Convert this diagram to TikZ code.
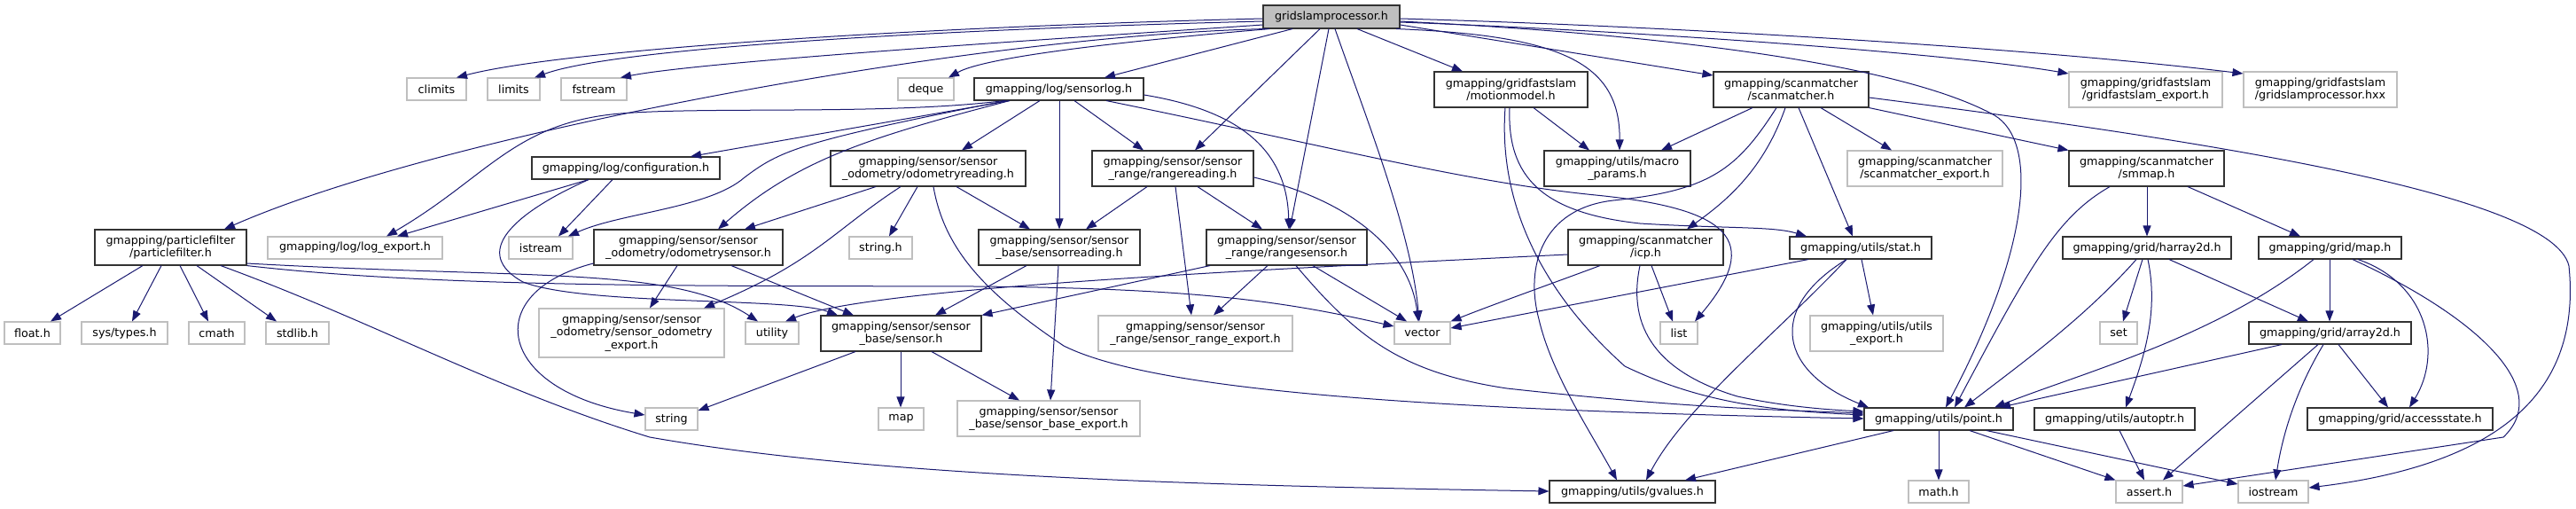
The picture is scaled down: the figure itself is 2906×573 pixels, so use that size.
\documentclass[tikz,border=0pt]{standalone}
\usepackage{fontspec}
\setmainfont{DejaVu Sans}
\usetikzlibrary{arrows.meta}
\definecolor{edgecol}{HTML}{191970}
\definecolor{docline}{HTML}{333333}
\definecolor{extline}{HTML}{BFBFBF}
\definecolor{rootfill}{HTML}{BFBFBF}
\newcommand\dnode[7]{\node[#1, minimum width=#5pt, minimum height=#6pt] (#2) at (#3,#4) {#7};}
\tikzset{
  docn/.style={draw=docline, line width=1.1pt, fill=white, inner sep=0pt, align=center},
  extn/.style={draw=extline, line width=1.1pt, fill=white, inner sep=0pt, align=center},
  rootn/.style={docn, fill=rootfill},
  dep/.style={draw=edgecol, line width=1pt, -{Triangle[length=12pt,width=9pt]}}
}
\begin{document}
\begin{tikzpicture}[x=1pt,y=-1pt,font=\fontsize{12.7pt}{14.3pt}\selectfont]
\useasboundingbox (0,0) rectangle (2906,573);
\fill[white] (0,0) rectangle (2906,573);
% nodes
\dnode{rootn}{gsp}{1502}{19}{154}{26}{gridslamprocessor.h}
\dnode{extn}{climits}{492.5}{100.5}{67}{25}{climits}
\dnode{extn}{limits}{579.5}{100.5}{59}{25}{limits}
\dnode{extn}{fstream}{670}{100.5}{74}{25}{fstream}
\dnode{extn}{deque}{1044.5}{100.5}{63}{25}{deque}
\dnode{docn}{sensorlog}{1194.5}{100.5}{191}{25}{gmapping/log/sensorlog.h}
\dnode{docn}{motionmodel}{1704.5}{101}{173}{40}{gmapping/gridfastslam\\/motionmodel.h}
\dnode{docn}{scanmatcher}{2020.5}{101}{175}{40}{gmapping/scanmatcher\\/scanmatcher.h}
\dnode{extn}{gfexport}{2420.5}{101}{173}{40}{gmapping/gridfastslam\\/gridfastslam\_export.h}
\dnode{extn}{gsphxx}{2617.5}{101}{173}{40}{gmapping/gridfastslam\\/gridslamprocessor.hxx}
\dnode{docn}{configuration}{706}{189.5}{212}{25}{gmapping/log/configuration.h}
\dnode{docn}{odomreading}{1047}{190}{220}{40}{gmapping/sensor/sensor\\\_odometry/odometryreading.h}
\dnode{docn}{rangereading}{1323}{190}{182}{40}{gmapping/sensor/sensor\\\_range/rangereading.h}
\dnode{docn}{macroparams}{1824.5}{190}{165}{40}{gmapping/utils/macro\\\_params.h}
\dnode{extn}{smexport}{2171.5}{190}{175}{40}{gmapping/scanmatcher\\/scanmatcher\_export.h}
\dnode{docn}{smmap}{2421.5}{190}{175}{40}{gmapping/scanmatcher\\/smmap.h}
\dnode{docn}{particlefilter}{192.5}{279}{171}{40}{gmapping/particlefilter\\/particlefilter.h}
\dnode{extn}{logexport}{400.5}{279.5}{197}{25}{gmapping/log/log\_export.h}
\dnode{extn}{istream}{610}{279.5}{72}{25}{istream}
\dnode{docn}{odomsensor}{776.5}{279}{213}{40}{gmapping/sensor/sensor\\\_odometry/odometrysensor.h}
\dnode{extn}{stringh}{993.5}{279.5}{71}{25}{string.h}
\dnode{docn}{sensorreading}{1195}{279}{182}{40}{gmapping/sensor/sensor\\\_base/sensorreading.h}
\dnode{docn}{rangesensor}{1451.5}{279}{181}{40}{gmapping/sensor/sensor\\\_range/rangesensor.h}
\dnode{docn}{icp}{1856.5}{279}{175}{40}{gmapping/scanmatcher\\/icp.h}
\dnode{docn}{stat}{2099}{279.5}{160}{25}{gmapping/utils/stat.h}
\dnode{docn}{harray2d}{2422}{279.5}{190}{25}{gmapping/grid/harray2d.h}
\dnode{docn}{gridmap}{2628.5}{279.5}{161}{25}{gmapping/grid/map.h}
\dnode{extn}{floath}{36.5}{375.5}{63}{25}{float.h}
\dnode{extn}{systypes}{140.5}{375.5}{97}{25}{sys/types.h}
\dnode{extn}{cmath}{244.5}{375.5}{63}{25}{cmath}
\dnode{extn}{stdlib}{335.5}{375.5}{71}{25}{stdlib.h}
\dnode{extn}{sodomexport}{712.5}{375.5}{209}{55}{gmapping/sensor/sensor\\\_odometry/sensor\_odometry\\\_export.h}
\dnode{extn}{utility}{871}{375.5}{60}{25}{utility}
\dnode{docn}{sensorh}{1016.5}{376}{181}{40}{gmapping/sensor/sensor\\\_base/sensor.h}
\dnode{extn}{srangeexport}{1348.5}{376}{219}{40}{gmapping/sensor/sensor\\\_range/sensor\_range\_export.h}
\dnode{extn}{vector}{1604.5}{375.5}{63}{25}{vector}
\dnode{extn}{list}{1894}{375.5}{42}{25}{list}
\dnode{extn}{utilsexport}{2117}{376}{150}{40}{gmapping/utils/utils\\\_export.h}
\dnode{extn}{set}{2390}{375.5}{42}{25}{set}
\dnode{docn}{array2d}{2628.5}{375.5}{183}{25}{gmapping/grid/array2d.h}
\dnode{extn}{string}{757.5}{472.5}{59}{25}{string}
\dnode{extn}{stdmap}{1016.5}{472.5}{51}{25}{map}
\dnode{extn}{sbaseexport}{1183}{472}{206}{40}{gmapping/sensor/sensor\\\_base/sensor\_base\_export.h}
\dnode{docn}{point}{2187}{472.5}{168}{25}{gmapping/utils/point.h}
\dnode{docn}{autoptr}{2385.5}{472.5}{181}{25}{gmapping/utils/autoptr.h}
\dnode{docn}{accessstate}{2707.5}{472.5}{209}{25}{gmapping/grid/accessstate.h}
\dnode{docn}{gvalues}{1841.5}{554.5}{187}{25}{gmapping/utils/gvalues.h}
\dnode{extn}{mathh}{2187}{554.5}{68}{25}{math.h}
\dnode{extn}{asserth}{2424.5}{554.5}{75}{25}{assert.h}
\dnode{extn}{iostream}{2564.5}{554.5}{79}{25}{iostream}
% edges from gridslamprocessor.h
\draw[dep] (gsp.west |- 0,21) .. controls (1050,30) and (640,55) .. (climits.north -| 515,0);
\draw[dep] (gsp.west |- 0,24) .. controls (1100,32) and (700,52) .. (limits.north -| 603,0);
\draw[dep] (gsp.west |- 0,28) .. controls (1250,40) and (800,68) .. (fstream.north -| 700,0);
\draw[dep] (gsp.south -| 1432,0) .. controls (1250,48) and (1110,65) .. (deque.north -| 1070,0);
\draw[dep] (gsp.south -| 1428,0) .. controls (1100,40) and (500,150) .. (particlefilter.north -| 253,0);
\draw[dep] (gsp.south -| 1458,0) -- (sensorlog.north -| 1246,0);
\draw[dep] (gsp.south -| 1489,0) -- (rangereading.north -| 1348,0);
\draw[dep] (gsp.south -| 1499,0) -- (rangesensor.north -| 1455,0);
\draw[dep] (gsp.south -| 1506,0) .. controls (1540,130) and (1592,260) .. (vector.north -| 1601,0);
\draw[dep] (gsp.south -| 1531,0) -- (motionmodel.north -| 1650,0);
\draw[dep] (gsp.south -| 1575,0) .. controls (1760,40) and (1828,70) .. (macroparams.north -| 1827,0);
\draw[dep] (gsp.east |- 0,28) -- (scanmatcher.west |- 0,85);
\draw[dep] (gsp.east |- 0,25) .. controls (1850,35) and (2200,60) .. (gfexport.west |- 0,83);
\draw[dep] (gsp.east |- 0,21) .. controls (1900,30) and (2300,55) .. (gsphxx.west |- 0,83);
\draw[dep] (gsp.east |- 0,24) .. controls (1900,40) and (2150,75) .. (2250,130) .. controls (2300,160) and (2290,280) .. (point.north -| 2195,0);
% sensorlog.h
\draw[dep] (sensorlog.south -| 1139,0) -- (configuration.north -| 779,0);
\draw[dep] (sensorlog.south -| 1135,0) .. controls (900,160) and (880,170) .. (840,200) .. controls (800,235) and (700,240) .. (istream.north -| 641,0);
\draw[dep] (sensorlog.south -| 1139,0) .. controls (980,155) and (900,180) .. (odomsensor.north -| 810,0);
\draw[dep] (sensorlog.south -| 1173,0) -- (odomreading.north -| 1085,0);
\draw[dep] (sensorlog.south -| 1212,0) -- (rangereading.north -| 1290,0);
\draw[dep] (sensorlog.south -| 1195,0) -- (sensorreading.north -| 1195,0);
\draw[dep] (sensorlog.east |- 0,107) .. controls (1400,125) and (1452,170) .. (rangesensor.north -| 1454,0);
\draw[dep] (sensorlog.south -| 1133,0) .. controls (1000,130) and (800,120) .. (700,128) .. controls (580,138) and (550,200) .. (logexport.north -| 436,0);
\draw[dep] (sensorlog.south -| 1248,0) .. controls (1500,165) and (1650,205) .. (1800,220) .. controls (1950,235) and (1990,270) .. (list.north -| 1912,0);
% particlefilter.h
\draw[dep] (particlefilter.south -| 161,0) -- (floath.north -| 57,0);
\draw[dep] (particlefilter.south -| 182,0) -- (systypes.north -| 149,0);
\draw[dep] (particlefilter.south -| 203,0) -- (cmath.north -| 235,0);
\draw[dep] (particlefilter.south -| 222,0) -- (stdlib.north -| 312,0);
\draw[dep] (particlefilter.south -| 249,0) .. controls (420,362) and (560,440) .. (733,493) .. controls (1000,540) and (1400,548) .. (gvalues.west |- 0,554);
\draw[dep] (particlefilter.east |- 0,297) .. controls (600,315) and (760,300) .. (utility.north -| 855,0);
\draw[dep] (particlefilter.south east) .. controls (500,325) and (800,322) .. (1100,323) .. controls (1350,325) and (1450,340) .. (vector.west |- 0,368);
% configuration.h
\draw[dep] (configuration.south -| 664,0) .. controls (580,240) and (530,285) .. (590,318) .. controls (660,345) and (890,335) .. (sensorh.north -| 945,0);
\draw[dep] (configuration.south -| 664,0) -- (logexport.north -| 448,0);
\draw[dep] (configuration.south -| 691,0) -- (istream.north -| 630,0);
% odometrysensor.h
\draw[dep] (odomsensor.south -| 764,0) -- (sodomexport.north -| 733,0);
\draw[dep] (odomsensor.south -| 825,0) -- (sensorh.north -| 963,0);
\draw[dep] (odomsensor.west |- 0,297) .. controls (540,330) and (560,440) .. (string.west |- 0,468);
% odometryreading.h
\draw[dep] (odomreading.south -| 988,0) -- (odomsensor.north -| 840,0);
\draw[dep] (odomreading.south -| 1016,0) .. controls (940,260) and (920,295) .. (sodomexport.north -| 794,0);
\draw[dep] (odomreading.south -| 1035,0) -- (stringh.north -| 1003,0);
\draw[dep] (odomreading.south -| 1079,0) -- (sensorreading.north -| 1162,0);
\draw[dep] (odomreading.south -| 1053,0) .. controls (1065,280) and (1110,330) .. (1200,390) .. controls (1300,440) and (1600,462) .. (point.west |- 0,472);
% sensor.h
\draw[dep] (sensorh.south -| 965,0) -- (string.east |- 0,463);
\draw[dep] (sensorh.south -| 1016,0) -- (stdmap.north -| 1016,0);
\draw[dep] (sensorh.south -| 1051,0) -- (sbaseexport.north -| 1150,0);
% sensorreading.h
\draw[dep] (sensorreading.south -| 1158,0) -- (sensorh.north -| 1055,0);
\draw[dep] (sensorreading.south -| 1194,0) -- (sbaseexport.north -| 1185,0);
% rangereading.h
\draw[dep] (rangereading.south -| 1294,0) -- (sensorreading.north -| 1225,0);
\draw[dep] (rangereading.south -| 1326,0) -- (srangeexport.north -| 1344,0);
\draw[dep] (rangereading.south -| 1351,0) -- (rangesensor.north -| 1424,0);
\draw[dep] (rangereading.east |- 0,200) .. controls (1520,225) and (1590,280) .. (vector.north -| 1600,0);
% rangesensor.h
\draw[dep] (rangesensor.south -| 1365,0) -- (sensorh.north east);
\draw[dep] (rangesensor.south -| 1430,0) -- (srangeexport.north -| 1369,0);
\draw[dep] (rangesensor.south -| 1481,0) -- (vector.north -| 1587,0);
\draw[dep] (rangesensor.south -| 1462,0) .. controls (1530,380) and (1580,420) .. (1700,438) .. controls (1900,460) and (2000,462) .. (point.west |- 0,466);
% motionmodel.h
\draw[dep] (motionmodel.south -| 1730,0) -- (macroparams.north -| 1793,0);
\draw[dep] (motionmodel.south -| 1703,0) .. controls (1700,200) and (1740,240) .. (1850,252) .. controls (1950,258) and (2000,255) .. (stat.north -| 2038,0);
\draw[dep] (motionmodel.south -| 1698,0) .. controls (1690,230) and (1740,330) .. (1833,413) .. controls (1920,455) and (2000,463) .. (point.west |- 0,468);
% scanmatcher.h
\draw[dep] (scanmatcher.south -| 1977,0) -- (macroparams.north -| 1874,0);
\draw[dep] (scanmatcher.south -| 2004,0) .. controls (1960,190) and (1930,215) .. (1820,226) .. controls (1740,235) and (1720,300) .. (1736,360) .. controls (1750,420) and (1790,480) .. (gvalues.north -| 1824,0);
\draw[dep] (scanmatcher.south -| 2014,0) .. controls (1990,190) and (1950,225) .. (icp.north -| 1903,0);
\draw[dep] (scanmatcher.south -| 2029,0) -- (stat.north -| 2090,0);
\draw[dep] (scanmatcher.south -| 2054,0) -- (smexport.north -| 2134,0);
\draw[dep] (scanmatcher.south east) -- (smmap.north west);
\draw[dep] (scanmatcher.east |- 0,110) .. controls (2500,160) and (2880,220) .. (2898,300) .. controls (2910,420) and (2850,520) .. (iostream.east |- 0,550);
% icp.h
\draw[dep] (icp.west |- 0,287) .. controls (1400,305) and (980,325) .. (utility.north -| 886,0);
\draw[dep] (icp.south -| 1805,0) .. controls (1750,320) and (1680,345) .. (vector.north east);
\draw[dep] (icp.south -| 1863,0) -- (list.north -| 1887,0);
\draw[dep] (icp.south -| 1850,0) .. controls (1835,370) and (1870,420) .. (1960,447) .. controls (2010,458) and (2060,462) .. (point.west |- 0,464);
% stat.h
\draw[dep] (stat.south -| 2040,0) -- (vector.east |- 0,370);
\draw[dep] (stat.south -| 2083,0) .. controls (2000,380) and (1900,460) .. (gvalues.north -| 1857,0);
\draw[dep] (stat.south -| 2083,0) .. controls (1990,350) and (2010,420) .. (point.north -| 2108,0);
\draw[dep] (stat.south -| 2100,0) -- (utilsexport.north -| 2113,0);
% smmap.h
\draw[dep] (smmap.south -| 2380,0) .. controls (2320,245) and (2290,300) .. (point.north -| 2205,0);
\draw[dep] (smmap.south -| 2422,0) -- (harray2d.north -| 2422,0);
\draw[dep] (smmap.south -| 2468,0) -- (gridmap.north -| 2595,0);
% harray2d.h
\draw[dep] (harray2d.south -| 2410,0) .. controls (2350,360) and (2280,410) .. (point.north -| 2216,0);
\draw[dep] (harray2d.south -| 2417,0) -- (set.north -| 2395,0);
\draw[dep] (harray2d.south -| 2423,0) .. controls (2435,350) and (2420,400) .. (autoptr.north -| 2398,0);
\draw[dep] (harray2d.south -| 2447,0) -- (array2d.north -| 2604,0);
% map.h
\draw[dep] (gridmap.south -| 2610,0) .. controls (2500,380) and (2350,420) .. (point.north -| 2250,0);
\draw[dep] (gridmap.south -| 2628,0) -- (array2d.north -| 2628,0);
\draw[dep] (gridmap.south -| 2660,0) .. controls (2740,320) and (2755,400) .. (accessstate.north -| 2718,0);
\draw[dep] (gridmap.south -| 2654,0) .. controls (2800,360) and (2880,440) .. (2824,493) -- (asserth.east |- 0,548);
% array2d.h
\draw[dep] (array2d.south -| 2574,0) -- (point.north -| 2256,0);
\draw[dep] (array2d.south -| 2615,0) -- (asserth.north -| 2440,0);
\draw[dep] (array2d.south -| 2621,0) .. controls (2590,440) and (2575,490) .. (iostream.north -| 2567,0);
\draw[dep] (array2d.south -| 2638,0) -- (accessstate.north -| 2694,0);
% autoptr.h
\draw[dep] (autoptr.south -| 2391,0) -- (asserth.north -| 2419,0);
% point.h
\draw[dep] (point.south -| 2136,0) -- (gvalues.north -| 1901,0);
\draw[dep] (point.south -| 2187,0) -- (mathh.north -| 2187,0);
\draw[dep] (point.south -| 2222,0) -- (asserth.north west);
\draw[dep] (point.south -| 2241,0) -- (iostream.west |- 0,546);
\end{tikzpicture}
\end{document}
